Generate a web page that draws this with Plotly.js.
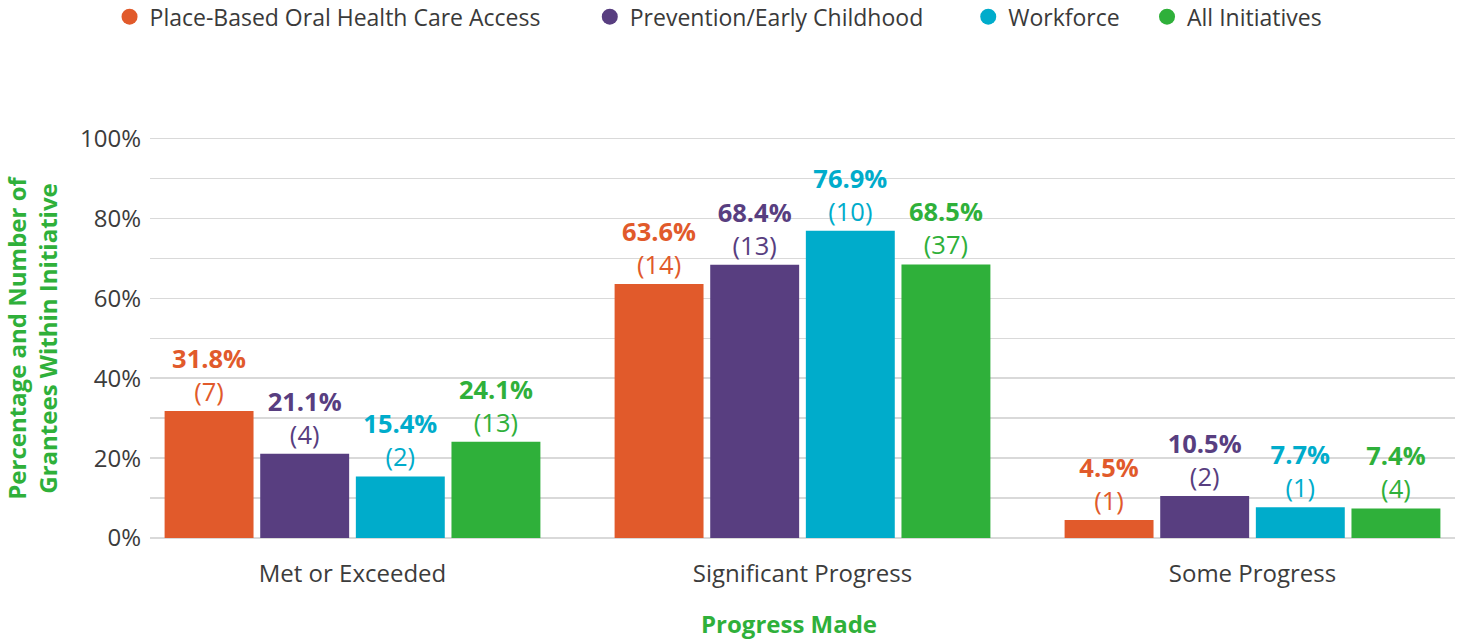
<!DOCTYPE html>
<html>
<head>
<meta charset="utf-8">
<script src="https://cdn.plot.ly/plotly-3.0.1.min.js"></script>
<style>html,body{margin:0;padding:0;background:#fff;}#chart{width:1462px;height:644px;}</style>
</head>
<body>
<div id="chart"></div>
<script>
const categories = ["Met or Exceeded", "Significant Progress", "Some Progress"];
const seriesNames = ["Place-Based Oral Health Care Access", "Prevention/Early Childhood", "Workforce", "All Initiatives"];
const placeBasedPct = [31.8, 63.6, 4.5];
const preventionPct = [21.1, 68.4, 10.5];
const workforcePct = [15.4, 76.9, 7.7];
const allPct = [24.1, 68.5, 7.4];
const placeBasedN = [7, 14, 1];
const preventionN = [4, 13, 2];
const workforceN = [2, 10, 1];
const allN = [13, 37, 4];
const yTickVals = [0, 20, 40, 60, 80, 100];
const yTickText = ["0%", "20%", "40%", "60%", "80%", "100%"];
const xTitle = "Progress Made";
const yTitle = "Percentage and Number of<br>Grantees Within Initiative";
const colors = ["#E15A2B", "#583E80", "#00ACCB", "#2FB03A"];

const pcts = [placeBasedPct, preventionPct, workforcePct, allPct];
const counts = [placeBasedN, preventionN, workforceN, allN];
const legendIds = ["legend", "legend2", "legend3", "legend4"];
const legendX = [-0.031, 0.337, 0.627, 0.764];

const FONT = "Open Sans, Noto Sans, sans-serif";
const traces = [];
pcts.forEach((vals, i) => {
  traces.push({
    type: "bar",
    name: seriesNames[i],
    x: categories,
    y: vals,
    customdata: counts[i],
    marker: {color: colors[i]},
    texttemplate: "<b>%{y:.1f}%</b><br>(%{customdata})",
    textposition: "outside",
    textfont: {family: FONT, size: 25.5, color: colors[i]},
    constraintext: "none",
    cliponaxis: false,
    showlegend: false,
    hoverinfo: "skip"
  });
});
seriesNames.forEach((nm, i) => {
  traces.push({
    type: "scatter",
    mode: "markers",
    name: nm,
    x: [null],
    y: [null],
    marker: {color: colors[i], size: 16, symbol: "circle"},
    legend: legendIds[i],
    showlegend: true
  });
});

const legendBase = {
  orientation: "h",
  yanchor: "middle",
  y: 1.30,
  xanchor: "left",
  font: {family: FONT, size: 23, color: "#3a3a3a"},
  bgcolor: "rgba(0,0,0,0)",
  itemclick: false
};
const layout = {
  width: 1462,
  height: 644,
  margin: {l: 150, r: 7, t: 137, b: 106, autoexpand: false},
  paper_bgcolor: "#fff",
  plot_bgcolor: "#fff",
  barmode: "group",
  bargap: 0.15,
  bargroupgap: 0.07,
  font: {family: FONT, color: "#3c3c3c"},
  xaxis: {
    type: "category",
    range: [-0.45, 2.45],
    showgrid: false,
    zeroline: false,
    showline: false,
    ticks: "",
    automargin: false,
    ticklabelstandoff: 19,
    tickfont: {family: FONT, size: 24, color: "#3c3c3c"}
  },
  yaxis: {
    range: [0, 100.4],
    tickvals: yTickVals,
    ticktext: yTickText,
    showgrid: true,
    gridcolor: "#d9d9d9",
    gridwidth: 1.5,
    zeroline: true,
    zerolinecolor: "#d9d9d9",
    zerolinewidth: 1.5,
    showline: false,
    ticks: "",
    automargin: false,
    ticklabelstandoff: 8,
    tickfont: {family: FONT, size: 24, color: "#3c3c3c"},
    minor: {dtick: 10, showgrid: true, gridcolor: "#d9d9d9", gridwidth: 1.5}
  },
  annotations: [
    {text: "<b>" + xTitle + "</b>", xref: "paper", yref: "paper", x: 0.49, y: -0.214,
     xanchor: "center", yanchor: "middle", showarrow: false, borderpad: 0,
     font: {family: FONT, size: 24, color: "#2FB03A"}},
    {text: "<b>" + yTitle + "</b>", xref: "paper", yref: "paper", x: -0.091, y: 0.5,
     xanchor: "center", yanchor: "middle", textangle: -90, showarrow: false,
     font: {family: FONT, size: 24, color: "#2FB03A"}}
  ],
  showlegend: true
};
legendIds.forEach((id, i) => {
  layout[id] = Object.assign({}, legendBase, {x: legendX[i]});
});

Plotly.newPlot("chart", traces, layout, {displayModeBar: false, staticPlot: true});
</script>
</body>
</html>
